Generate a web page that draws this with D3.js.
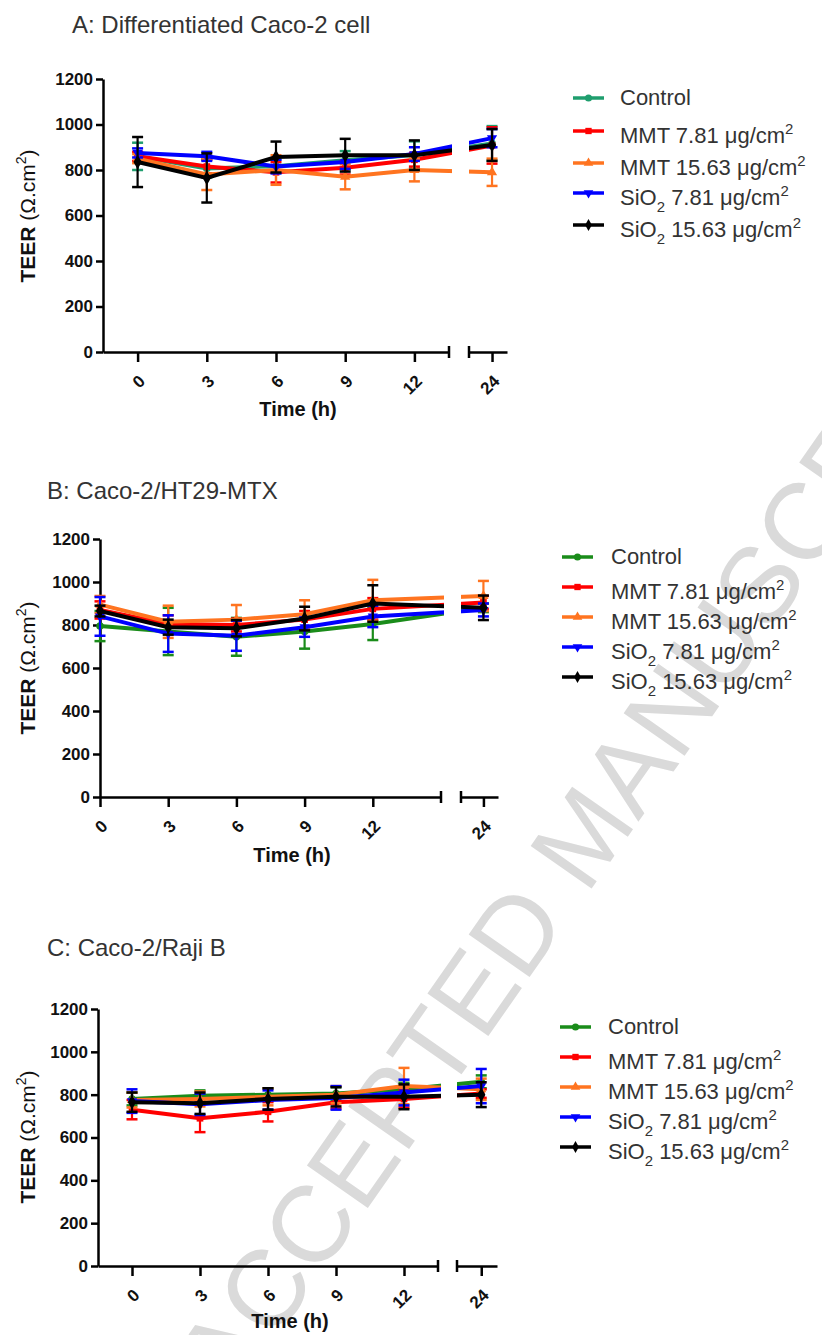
<!DOCTYPE html>
<html>
<head>
<meta charset="utf-8">
<script src="https://cdn.jsdelivr.net/npm/d3@7"></script>
<style>
  body { margin: 0; background: #fff; }
  svg { display: block; font-family: "Liberation Sans", Arial, sans-serif; }
</style>
</head>
<body>
<div id="chart"></div>
<script>
// time points (h), shared by the three panels
const times = [0, 3, 6, 9, 12, 24];
const xTicksLeft = [0, 3, 6, 9, 12];
const xTicksRight = [24];
const yTicks = [0, 200, 400, 600, 800, 1000, 1200];
const seriesNames = ['Control', 'MMT 7.81 μg/cm2', 'MMT 15.63 μg/cm2', 'SiO2 7.81 μg/cm2', 'SiO2 15.63 μg/cm2'];
const panelTitles = ['A: Differentiated Caco-2 cell', 'B: Caco-2/HT29-MTX', 'C: Caco-2/Raji B'];

// A: differentiated Caco-2 (rows follow seriesNames)
const meanA = [
  [860, 807, 817, 843, 866, 917],
  [860, 815, 790, 810, 845, 908],
  [850, 780, 800, 770, 800, 790],
  [875, 860, 815, 835, 870, 940],
  [835, 765, 857, 865, 865, 910]
];
const sdA = [
  [60, 40, 30, 40, 60, 76],
  [20, 30, 45, 30, 30, 80],
  [20, 68, 65, 55, 50, 60],
  [20, 20, 30, 30, 30, 40],
  [110, 108, 68, 72, 65, 70]
];

// B: Caco-2/HT29-MTX
const meanB = [
  [795, 770, 745, 770, 805, 880],
  [870, 805, 800, 825, 875, 905],
  [895, 815, 825, 850, 915, 935],
  [840, 760, 750, 790, 840, 870],
  [865, 790, 785, 830, 900, 880]
];
const sdB = [
  [70, 110, 88, 80, 75, 20],
  [40, 40, 30, 40, 50, 30],
  [40, 75, 68, 65, 95, 70],
  [90, 85, 70, 45, 50, 30],
  [25, 35, 38, 55, 85, 57]
];

// C: Caco-2/Raji B
const meanC = [
  [780, 795, 800, 805, 825, 860],
  [730, 690, 720, 765, 780, 805],
  [775, 780, 790, 800, 840, 825],
  [770, 755, 775, 785, 810, 840],
  [765, 760, 780, 790, 790, 800]
];
const sdC = [
  [30, 25, 30, 30, 30, 30],
  [45, 65, 45, 30, 40, 20],
  [35, 35, 40, 40, 85, 50],
  [55, 50, 45, 55, 60, 80],
  [45, 50, 50, 45, 58, 58]
];

const seriesColors = ['#1f9e6e', '#ff0000', '#ff7420', '#0000ff', '#000000'];
const symbols = [d3.symbolCircle, d3.symbolSquare, d3.symbolTriangle, d3.symbolTriangle, d3.symbolDiamond];

// layout of each panel (pixels)
const panels = [
  { title: panelTitles[0], mean: meanA, sd: sdA, control: '#1f9e6e',
    titleX: 72, titleY: 33, axisX: 103, y0: 352, y1: 79,
    seg1: [-1.5, 13.5], r1: [103, 449], seg2: [23, 24.65], r2: [469, 507],
    yLabelY: 216, xLabelX: 298, xLabelY: 416,
    legX: 573, legTextX: 620, legRows: [98, 131, 163, 193, 225] },
  { title: panelTitles[1], mean: meanB, sd: sdB, control: '#1a8c1a',
    titleX: 47, titleY: 499, axisX: 100, y0: 797, y1: 539,
    seg1: [0, 15], r1: [100, 441], seg2: [23, 24.65], r2: [461, 498],
    yLabelY: 668, xLabelX: 292, xLabelY: 862,
    legX: 562, legTextX: 611, legRows: [557, 587, 617, 647, 677] },
  { title: panelTitles[2], mean: meanC, sd: sdC, control: '#1a8c1a',
    titleX: 47, titleY: 956, axisX: 98, y0: 1266, y1: 1009,
    seg1: [-1.5, 13.5], r1: [98, 438], seg2: [23, 24.65], r2: [457, 497],
    yLabelY: 1137, xLabelX: 290, xLabelY: 1328,
    legX: 560, legTextX: 608, legRows: [1027, 1057, 1087, 1117, 1147] }
];

const svg = d3.select('#chart').append('svg')
  .attr('width', 822)
  .attr('height', 1335);

// watermark behind everything
svg.append('text')
  .attr('transform', 'translate(232,1402) rotate(-55)')
  .attr('font-size', 108)
  .attr('fill', '#dadada')
  .text('ACCEPTED MANUSCRIPT');

// writes "SiO2" with subscript and "cm2" with superscript
function richLabel(sel, label, size) {
  let shift = 0;
  label.split(/(SiO2|cm2)/).filter(s => s.length).forEach(p => {
    if (p === 'SiO2') {
      sel.append('tspan').attr('dy', -shift).text('SiO');
      sel.append('tspan').attr('font-size', size * 0.68).attr('dy', size * 0.3).text('2');
      shift = size * 0.3;
    } else if (p === 'cm2') {
      sel.append('tspan').attr('dy', -shift).text('cm');
      sel.append('tspan').attr('font-size', size * 0.68).attr('dy', -size * 0.42).text('2');
      shift = -size * 0.42;
    } else {
      sel.append('tspan').attr('dy', -shift).text(p);
      shift = 0;
    }
  });
}

panels.forEach((p, pi) => {
  const g = svg.append('g');
  const colors = seriesColors.slice();
  colors[0] = p.control;

  const y = d3.scaleLinear().domain([0, 1200]).range([p.y0, p.y1]);
  const x1 = d3.scaleLinear().domain(p.seg1).range(p.r1);
  const x2 = d3.scaleLinear().domain(p.seg2).range(p.r2);
  // continuous scale over the break, used for the connecting lines
  const x = d3.scaleLinear()
    .domain([p.seg1[0], p.seg1[1], p.seg2[0], p.seg2[1]])
    .range([p.r1[0], p.r1[1], p.r2[0], p.r2[1]]);

  // title
  g.append('text')
    .attr('x', p.titleX).attr('y', p.titleY)
    .attr('font-size', 24).attr('fill', '#333')
    .text(p.title);

  // clip paths leaving a gap at the axis break
  const clipId = 'clip' + pi;
  const clip = svg.append('clipPath').attr('id', clipId);
  clip.append('rect').attr('x', 0).attr('y', 0).attr('width', p.r1[1] + 3).attr('height', 1335);
  clip.append('rect').attr('x', p.r2[0]).attr('y', 0).attr('width', 822 - p.r2[0]).attr('height', 1335);

  // y axis
  const yAxis = g.append('g')
    .attr('transform', `translate(${p.axisX},0)`)
    .call(d3.axisLeft(y).tickValues(yTicks).tickFormat(d3.format('d'))
      .tickSize(7).tickSizeOuter(0).tickPadding(3));
  yAxis.select('.domain').attr('stroke', '#000').attr('stroke-width', 2.5);
  yAxis.selectAll('.tick line').attr('stroke', '#000').attr('stroke-width', 2.5);
  yAxis.selectAll('.tick text')
    .attr('font-size', 17).attr('font-weight', 'bold').attr('fill', '#111')
    .attr('font-family', '"Liberation Sans", Arial, sans-serif');

  // x axis, two segments
  [[x1, xTicksLeft, 1], [x2, xTicksRight, 0]].forEach(([sc, tv, capRight]) => {
    const ax = g.append('g')
      .attr('transform', `translate(0,${p.y0})`)
      .call(d3.axisBottom(sc).tickValues(tv).tickFormat(d3.format('d'))
        .tickSize(10).tickSizeOuter(0));
    ax.select('.domain').attr('stroke', '#000').attr('stroke-width', 2.5);
    ax.selectAll('.tick line').attr('stroke', '#000').attr('stroke-width', 2.5);
    ax.selectAll('.tick text')
      .attr('x', 0).attr('y', 0).attr('dy', '.35em')
      .attr('text-anchor', 'end')
      .attr('transform', 'translate(4,26) rotate(-45)')
      .attr('font-size', 17).attr('font-weight', 'bold').attr('fill', '#111')
      .attr('font-family', '"Liberation Sans", Arial, sans-serif');
    const capX = capRight ? sc.range()[1] : sc.range()[0];
    ax.append('line')
      .attr('x1', capX).attr('x2', capX).attr('y1', -6).attr('y2', 6)
      .attr('stroke', '#000').attr('stroke-width', 2.5);
  });

  // axis titles
  const yt = g.append('text')
    .attr('transform', `translate(35,${p.yLabelY}) rotate(-90)`)
    .attr('text-anchor', 'middle')
    .attr('font-size', 21).attr('fill', '#111');
  yt.append('tspan').attr('font-weight', 'bold').text('TEER ');
  yt.append('tspan').text('(Ω.cm');
  yt.append('tspan').attr('font-size', 14).attr('dy', -9).text('2');
  yt.append('tspan').attr('dy', 9).text(')');

  g.append('text')
    .attr('x', p.xLabelX).attr('y', p.xLabelY)
    .attr('text-anchor', 'middle')
    .attr('font-size', 20).attr('font-weight', 'bold').attr('fill', '#111')
    .text('Time (h)');

  // series
  const line = d3.line()
    .x((d, i) => x(times[i]))
    .y(d => y(d));

  p.mean.forEach((vals, si) => {
    const c = colors[si];
    const sg = g.append('g');
    const sds = p.sd[si];

    // error bars
    const eb = sg.selectAll('.eb').data(vals).enter().append('g');
    eb.append('line')
      .attr('x1', (d, i) => x(times[i])).attr('x2', (d, i) => x(times[i]))
      .attr('y1', (d, i) => y(d - sds[i])).attr('y2', (d, i) => y(d + sds[i]))
      .attr('stroke', c).attr('stroke-width', 2.2);
    [-1, 1].forEach(s => {
      eb.append('line')
        .attr('x1', (d, i) => x(times[i]) - 5.5).attr('x2', (d, i) => x(times[i]) + 5.5)
        .attr('y1', (d, i) => y(d + s * sds[i])).attr('y2', (d, i) => y(d + s * sds[i]))
        .attr('stroke', c).attr('stroke-width', 2.5);
    });

    sg.append('path')
      .datum(vals)
      .attr('clip-path', `url(#${clipId})`)
      .attr('fill', 'none')
      .attr('stroke', c)
      .attr('stroke-width', 4)
      .attr('d', line);

    const sym = d3.symbol().type(symbols[si]).size(si === 4 ? 60 : 45);
    sg.selectAll('.pt').data(vals).enter().append('path')
      .attr('d', sym)
      .attr('transform', (d, i) => `translate(${x(times[i])},${y(d)})${si === 3 ? ' rotate(180)' : ''}`)
      .attr('fill', c);
  });

  // legend
  seriesNames.forEach((name, si) => {
    const c = colors[si];
    const ry = p.legRows[si];
    g.append('line')
      .attr('x1', p.legX).attr('x2', p.legX + 31)
      .attr('y1', ry).attr('y2', ry)
      .attr('stroke', c).attr('stroke-width', 3.5);
    g.append('path')
      .attr('d', d3.symbol().type(symbols[si]).size(40))
      .attr('transform', `translate(${p.legX + 15.5},${ry})${si === 3 ? ' rotate(180)' : ''}`)
      .attr('fill', c);
    const t = g.append('text')
      .attr('x', p.legTextX).attr('y', ry + (si === 0 ? 7 : 12))
      .attr('font-size', 22).attr('fill', '#333');
    richLabel(t, name, 22);
  });
});
</script>
</body>
</html>
